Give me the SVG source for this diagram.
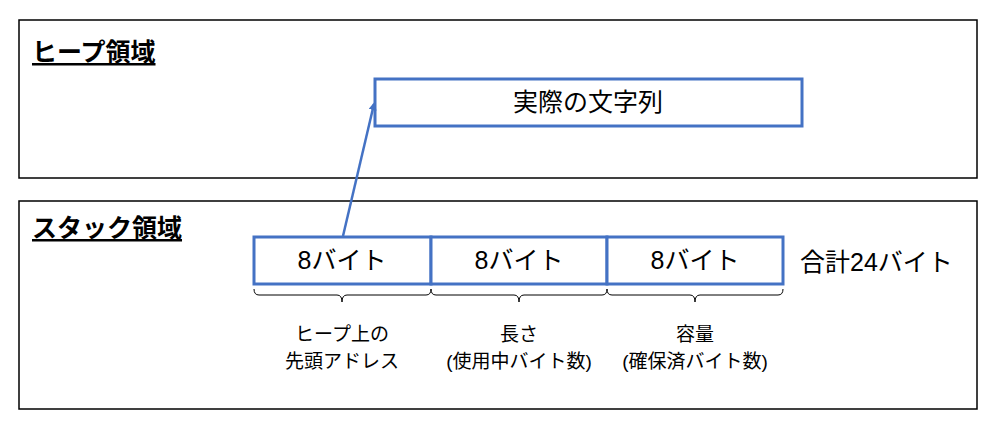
<svg xmlns="http://www.w3.org/2000/svg" width="1003" height="440" viewBox="0 0 1003 440">
<style>
.area{fill:#fff;stroke:#000;stroke-width:1.5}
.box{fill:#fff;stroke:#4472C4;stroke-width:3}
.t{font-family:"Liberation Sans","Noto Sans CJK JP",sans-serif;fill:#000}
.h{font-size:25px;font-weight:bold;text-decoration:underline}
.b{font-size:25px;text-anchor:middle}
.l{font-size:19px;text-anchor:middle}
.br{fill:none;stroke:#000;stroke-width:1}
</style>
<defs><marker id="ah" markerWidth="8" markerHeight="8" refX="6" refY="4" orient="auto" markerUnits="userSpaceOnUse"><path d="M0,0L8,4L0,8z" fill="#4472C4"/></marker></defs>
<rect width="1003" height="440" fill="#fff"/>
<g id="heap"><rect class="area" x="19" y="20" width="958" height="158"/><text class="t h" x="32" y="61">ヒープ領域</text></g>
<g id="stack"><rect class="area" x="19" y="201" width="958" height="208"/><text class="t h" x="32" y="237">スタック領域</text></g>
<g id="str"><rect class="box" x="375" y="79" width="427" height="47"/><text class="t b" x="588" y="111">実際の文字列</text></g>
<g id="b1"><rect class="box" x="254" y="237" width="177" height="47"/><text class="t b" x="342" y="269">8バイト</text></g>
<g id="b2"><rect class="box" x="431" y="237" width="176" height="47"/><text class="t b" x="519" y="269">8バイト</text></g>
<g id="b3"><rect class="box" x="607" y="237" width="176" height="47"/><text class="t b" x="695" y="269">8バイト</text></g>
<text class="t" x="800" y="271" font-size="25">合計24バイト</text>
<g id="connectors">
<line x1="343" y1="236" x2="374" y2="104" stroke="#4472C4" stroke-width="2.5" marker-end="url(#ah)"/>
<path class="br" d="M254,289q0,6 5,6H337q5,0 5,7q0-7 5-7H426q5,0 5-6"/>
<path class="br" d="M431,289q0,6 5,6H514q5,0 5,7q0-7 5-7H602q5,0 5-6"/>
<path class="br" d="M607,289q0,6 5,6H690q5,0 5,7q0-7 5-7H778q5,0 5-6"/>
</g>
<text class="t l" x="342" y="341">ヒープ上の</text><text class="t l" x="342" y="368">先頭アドレス</text>
<text class="t l" x="519" y="341">長さ</text><text class="t l" x="519" y="368">(使用中バイト数)</text>
<text class="t l" x="695" y="341">容量</text><text class="t l" x="695" y="368">(確保済バイト数)</text>
</svg>
